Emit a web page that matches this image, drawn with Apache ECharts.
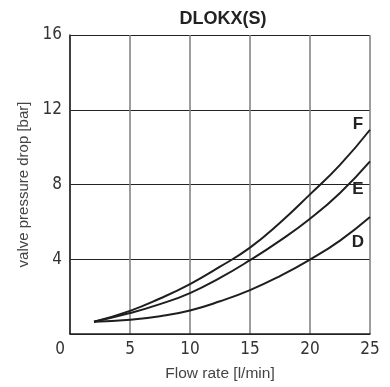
<!DOCTYPE html>
<html>
<head>
<meta charset="utf-8">
<script src="https://cdn.jsdelivr.net/npm/echarts@6/dist/echarts.min.js"></script>
<style>
  html, body { margin: 0; padding: 0; background: #fff; }
  #chart { width: 390px; height: 387px; }
</style>
</head>
<body>
<div id="chart"></div>
<script>
// Pressure drop curves for the DLOKX(S) valve, spools D, E and F
const flowRate = [2, 5, 7.5, 10, 12.5, 15, 17.5, 20, 22.5, 25];   // l/min
const curveF   = [0.66, 1.24, 1.9, 2.67, 3.6, 4.62, 5.95, 7.47, 9.05, 10.93]; // bar
const curveE   = [0.66, 1.12, 1.6, 2.19, 3.0, 3.95, 5.0, 6.17, 7.55, 9.24];
const curveD   = [0.66, 0.76, 0.95, 1.26, 1.75, 2.35, 3.1, 3.98, 5.0, 6.26];
const curveNames = ['F', 'E', 'D'];
const xTicks = [0, 5, 10, 15, 20, 25];
const yTicks = [0, 4, 8, 12, 16];

const tickFont = "'DejaVu Sans Condensed', 'Liberation Sans Narrow', 'Liberation Sans', sans-serif";
const textFont = "'Liberation Sans', Arial, sans-serif";

// label placement next to each curve's end, in pixels
const labelOffsets = { F: [-12, -5], E: [-12, 28], D: [-12, 25] };

function buildSeries(name, values) {
  const data = values.map((v, i) => {
    const item = { value: [flowRate[i], v] };
    if (i === values.length - 1) {
      item.label = {
        show: true,
        position: 'inside',
        offset: labelOffsets[name],
        formatter: name,
        fontFamily: textFont,
        fontWeight: 'bold',
        fontSize: 17,
        color: '#222'
      };
    }
    return item;
  });
  return {
    name: name,
    type: 'line',
    smooth: 0.5,
    symbol: 'circle',
    symbolSize: 0,
    showSymbol: true,
    silent: true,
    lineStyle: { color: '#1e1e1e', width: 2 },
    itemStyle: { color: '#1e1e1e' },
    data: data,
    z: 5
  };
}

const chart = echarts.init(document.getElementById('chart'), null, { renderer: 'canvas' });
chart.setOption({
  animation: false,
  backgroundColor: '#fff',
  title: {
    text: 'DLOKX(S)',
    left: 218,
    top: 5,
    textAlign: 'center',
    textStyle: { fontFamily: textFont, fontWeight: 'bold', fontSize: 18, color: '#222' }
  },
  grid: { left: 70, right: 20, top: 35, bottom: 52 },
  xAxis: {
    type: 'value',
    min: xTicks[0],
    max: xTicks[xTicks.length - 1],
    interval: xTicks[1] - xTicks[0],
    name: 'Flow rate [l/min]',
    nameLocation: 'middle',
    nameGap: 32,
    nameTextStyle: { fontFamily: textFont, fontSize: 15.5, color: '#444' },
    axisLine: { lineStyle: { color: '#222', width: 1.5 } },
    axisTick: { show: false },
    axisLabel: {
      margin: 7,
      fontFamily: tickFont,
      fontSize: 17,
      color: '#333',
      formatter: v => (v === 0 ? '{z|0}' : String(v)),
      rich: { z: { fontFamily: tickFont, fontSize: 17, color: '#333', padding: [0, 20, 0, 0] } }
    },
    splitLine: { show: true, lineStyle: { color: '#858585', width: 1.6 } }
  },
  yAxis: {
    type: 'value',
    min: yTicks[0],
    max: yTicks[yTicks.length - 1],
    interval: yTicks[1] - yTicks[0],
    name: 'valve pressure drop [bar]',
    nameLocation: 'middle',
    nameGap: 37,
    nameTextStyle: { fontFamily: textFont, fontSize: 15, color: '#444' },
    axisLine: { show: true, lineStyle: { color: '#222', width: 1.5 } },
    axisTick: { show: false },
    axisLabel: {
      margin: 8,
      fontFamily: tickFont,
      fontSize: 17,
      color: '#333',
      formatter: v => (v === 0 ? '' : String(v))
    },
    splitLine: { show: true, lineStyle: { color: '#222', width: 1 } }
  },
  series: [
    buildSeries(curveNames[0], curveF),
    buildSeries(curveNames[1], curveE),
    buildSeries(curveNames[2], curveD)
  ]
});
</script>
</body>
</html>
